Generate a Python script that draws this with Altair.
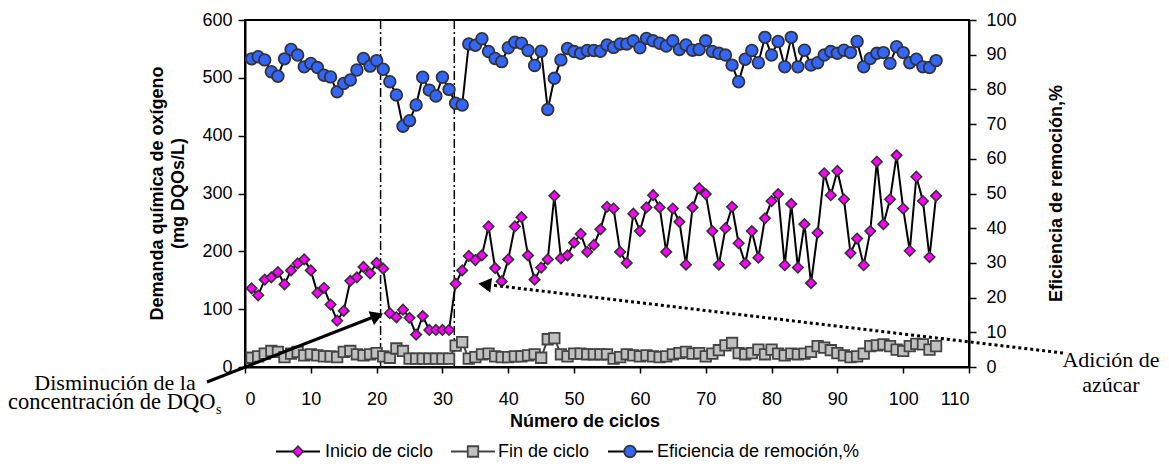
import altair as alt
import pandas as pd

# ---------------- data ----------------
cycles = list(range(1, 106))
inicio = [136, 124, 151, 155, 164, 143, 167, 179, 186, 167,
          128, 137, 108, 80, 97, 149, 155, 173, 162, 180,
          170, 93, 86, 99, 85, 56, 88, 64, 64, 64,
          64, 144, 167, 192, 185, 193, 243, 171, 148, 186,
          243, 259, 193, 151, 172, 186, 296, 188, 193, 215,
          230, 199, 211, 238, 277, 274, 199, 180, 265, 235,
          276, 297, 276, 199, 274, 251, 177, 276, 309, 299,
          235, 177, 240, 277, 214, 179, 235, 189, 257, 287,
          299, 176, 282, 172, 247, 145, 232, 335, 297, 339,
          290, 197, 222, 176, 235, 355, 247, 290, 366, 274,
          201, 329, 287, 190, 296]
fin = [16, 18.5, 23, 27.7, 26, 17, 23, 26, 20, 22,
       20, 18.5, 18.5, 17, 26, 27.7, 22, 20, 22, 24,
       18.5, 16, 32, 27.7, 14.5, 14.5, 14.5, 14.5, 14.5, 14.5,
       14.5, 37, 43, 14.5, 17, 22, 23, 18.5, 17, 17,
       18.5, 18.5, 20, 22, 16, 48, 50, 22, 18.5, 23,
       23, 22, 22, 22, 22, 14.5, 17, 22, 20, 18.5,
       20, 18.5, 17, 18.5, 22, 24, 26, 23, 24, 18.5,
       23, 29, 37.5, 41.5, 24, 22, 24, 30, 22, 30,
       23, 20, 23, 22, 23, 26, 36, 33.5, 29, 24,
       20, 17, 18.5, 23, 36, 37.5, 39, 36, 30, 27.7,
       36, 40, 39, 30, 36]
eficiencia = [88.8, 89.4, 88.5, 85.1, 83.8, 88.8, 91.5, 89.9, 86.5, 87.5,
              86.3, 84.1, 83.6, 79.3, 81.7, 82.7, 85.6, 88.9, 86.7, 88.3,
              85.8, 82.2, 78.4, 69.4, 71.0, 75.5, 83.5, 79.8, 78.1, 83.5,
              80.0, 76.0, 75.5, 93.1, 92.7, 94.6, 90.9, 88.9, 88.0, 92.0,
              93.6, 93.3, 91.2, 86.9, 91.0, 74.2, 83.2, 88.5, 91.8, 90.9,
              90.4, 91.2, 91.2, 91.0, 92.8, 92.1, 93.1, 93.1, 94.0, 92.0,
              94.7, 94.0, 93.3, 92.5, 94.0, 91.5, 92.8, 91.3, 91.5, 94.0,
              90.9, 90.4, 89.9, 87.0, 82.2, 88.7, 91.2, 87.7, 95.0, 89.9,
              93.8, 86.5, 95.0, 86.5, 91.3, 87.0, 87.7, 89.9, 90.9, 90.4,
              91.3, 90.6, 93.8, 86.5, 88.9, 90.4, 90.6, 87.5, 92.3, 90.6,
              87.7, 88.7, 86.5, 86.3, 88.3]
event_cycles = [20.6, 31.8]
x_ticks = list(range(0, 111, 10))
left_ticks = list(range(0, 601, 100))
right_ticks = list(range(0, 101, 10))

df = pd.DataFrame({"ciclo": cycles, "inicio": inicio, "fin": fin,
                   "eficiencia": eficiencia})
one = pd.DataFrame({"k": [0]})

W, H = 724, 347
FONT = "Liberation Sans"
SERIF = "Liberation Serif"

xs = alt.Scale(domain=[0, 110], nice=False, zero=False)
yl = alt.Scale(domain=[0, 600], nice=False, zero=False)
yr = alt.Scale(domain=[0, 100], nice=False, zero=False)

common_axis = dict(title=None, labelFont=FONT, labelFontSize=18, labelColor="black",
                   tickColor="black", tickWidth=1.5, domainColor="black",
                   domainWidth=2, grid=False)
x_axis = alt.Axis(values=x_ticks, tickSize=6, labelPadding=17, **common_axis)
left_axis = alt.Axis(values=left_ticks, orient="left", tickSize=7, labelPadding=6,
                     **common_axis)
right_axis = alt.Axis(values=right_ticks, orient="right", tickSize=7, labelPadding=10,
                      **common_axis)

X = alt.X("ciclo:Q", scale=xs, axis=x_axis)

MS_D, MS_S, MS_C = 110, 110, 135

# ---------------- series ----------------
base = alt.Chart(df)
inicio_line = base.mark_line(color="black", strokeWidth=2).encode(
    x=X, y=alt.Y("inicio:Q", scale=yl, axis=left_axis))
inicio_pts = base.mark_point(shape="diamond", size=MS_D, filled=True, fill="#FF00FF",
                             stroke="#333333", strokeWidth=1.6, opacity=1).encode(
    x=X, y=alt.Y("inicio:Q", scale=yl, axis=left_axis))
fin_line = base.mark_line(color="#444444", strokeWidth=2).encode(
    x=X, y=alt.Y("fin:Q", scale=yl, axis=left_axis))
fin_pts = base.mark_point(shape="square", size=MS_S, filled=True, fill="#C0C0C0",
                          stroke="#444444", strokeWidth=1.8, opacity=1).encode(
    x=X, y=alt.Y("fin:Q", scale=yl, axis=left_axis))
left_layer = alt.layer(inicio_line, inicio_pts, fin_line, fin_pts)

ef_line = base.mark_line(color="black", strokeWidth=2).encode(
    x=X, y=alt.Y("eficiencia:Q", scale=yr, axis=right_axis))
ef_pts = base.mark_point(shape="circle", size=MS_C, filled=True, fill="#3366FF",
                         stroke="#333333", strokeWidth=1.8, opacity=1).encode(
    x=X, y=alt.Y("eficiencia:Q", scale=yr, axis=right_axis))
right_layer = alt.layer(ef_line, ef_pts)

events = alt.Chart(pd.DataFrame({"ev": event_cycles})).mark_rule(
    color="black", strokeWidth=1.5, strokeDash=[9, 3, 2, 3]).encode(
    x=alt.X("ev:Q", scale=xs, axis=x_axis), y=alt.value(0), y2=alt.value(H))


# ---------------- decorations ----------------
def txt(s, x, y, size=18, font=FONT, bold=False, angle=None, align="center"):
    kw = dict(text=s, font=font, fontSize=size, color="black", align=align,
              baseline="middle")
    if bold:
        kw["fontWeight"] = "bold"
    if angle is not None:
        kw["angle"] = angle
    return alt.Chart(one).mark_text(**kw).encode(x=alt.value(x), y=alt.value(y))


def seg(x1, y1, x2, y2, color="black", width=2.0, dash=None):
    kw = dict(color=color, strokeWidth=width)
    if dash:
        kw["strokeDash"] = dash
    return alt.Chart(one).mark_rule(**kw).encode(
        x=alt.value(x1), y=alt.value(y1), x2=alt.value(x2), y2=alt.value(y2))


def sym(x, y, shape, size, fill, stroke="#333333", sw=1.6, angle=None):
    kw = dict(shape=shape, size=size, filled=True, fill=fill, stroke=stroke,
              strokeWidth=sw, opacity=1)
    if angle is not None:
        kw["angle"] = angle
    return alt.Chart(one).mark_point(**kw).encode(x=alt.value(x), y=alt.value(y))


LY = 431.5
deco = [
    # axis titles
    txt("Demanda química de oxígeno", -87, H / 2, bold=True, angle=270),
    txt("(mg DQOs/L)", -66, H / 2, bold=True, angle=270),
    txt("Eficiencia de remoción,%", 812, H / 2, bold=True, angle=270),
    txt("Número de ciclos", 340, 402, bold=True),
    # legend
    seg(31, LY, 75, LY, width=2),
    sym(53, LY, "diamond", MS_D, "#FF00FF"),
    txt("Inicio de ciclo", 80, LY, align="left"),
    seg(206, LY, 250, LY, color="#444444", width=2),
    sym(228, LY, "square", MS_S, "#C0C0C0", stroke="#444444", sw=1.8),
    txt("Fin de ciclo", 253, LY, align="left"),
    seg(363, LY, 408, LY, width=2),
    sym(385, LY, "circle", MS_C, "#3366FF", sw=1.8),
    txt("Eficiencia de remoción,%", 412, LY, align="left"),
    # annotation: decrease
    seg(-38, 362, 131, 296, width=3),
    sym(132, 296, "triangle-right", 170, "black", stroke="black", sw=1, angle=338.8),
    txt("Disminución de la", -130, 363, size=22, font=SERIF),
    txt("concentración de DQO", -237, 382, size=22.5, font=SERIF, align="left"),
    txt("s", -29, 390, size=14, font=SERIF, align="left"),
    # annotation: sugar
    seg(818, 333, 246, 265, width=3, dash=[3, 3]),
    sym(240, 264.5, "triangle-left", 170, "black", stroke="black", sw=1, angle=6.8),
    txt("Adición de", 866, 340, size=22, font=SERIF),
    txt("azúcar", 866, 365, size=22, font=SERIF),
]

chart = alt.layer(events, left_layer, right_layer, *deco).resolve_scale(
    y="independent"
).properties(
    width=W, height=H,
    padding={"left": 237, "top": 12, "right": 192, "bottom": 99},
    autosize=alt.AutoSizeParams(type="none"),
).configure_view(stroke="black", strokeWidth=2)

chart.save("out.html", embed_options={"renderer": "svg", "actions": False})
